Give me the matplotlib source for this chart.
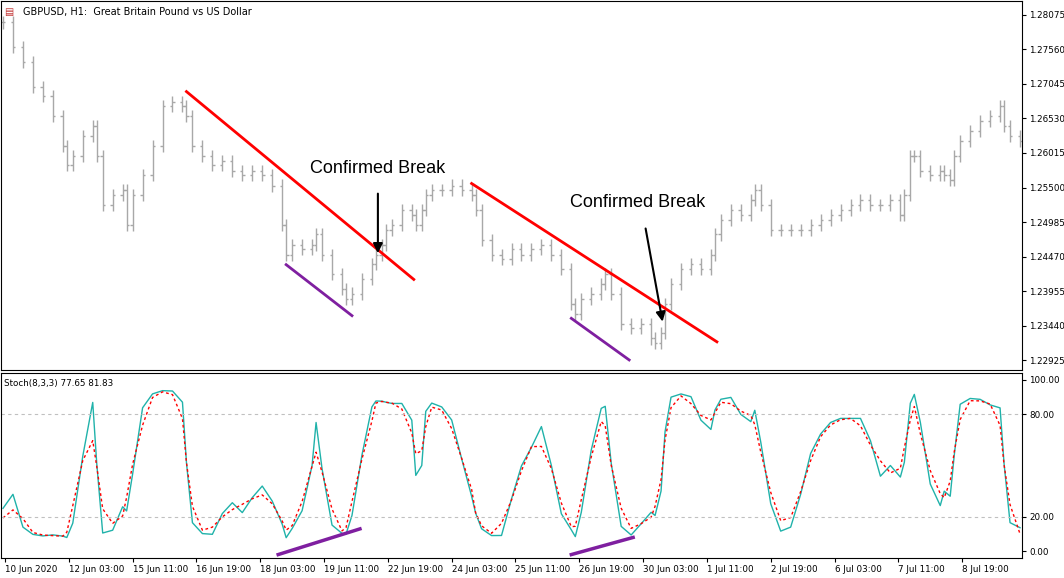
import numpy as np
import matplotlib
matplotlib.use("Agg")
import matplotlib.pyplot as plt

# bar index (hourly bars) of sampled closes
bars = [0,5,10,15,20,25,30,32,35,40,45,47,50,55,60,62,65,70,75,80,85,90,92,95,100,105,110,115,120,125,130,135,140,142,145,150,155,157,160,165,170,172,175,180,185,187,190,192,195,200,205,207,210,212,215,220,225,230,235,237,240,245,250,255,260,265,270,275,280,285,287,290,295,300,302,305,310,315,320,325,327,330,332,335,340,345,350,355,357,360,365,370,375,377,380,385,390,395,400,405,410,415,420,425,430,435,440,445,450,452,455,457,460,465,470,472,475,477,480,485,490,495,500,502,505,510]
closes = [1.2796,1.2759,1.2737,1.2700,1.2686,1.2656,1.2612,1.2583,1.2597,1.2627,1.2641,1.2597,1.2524,1.2539,1.2546,1.2494,1.2539,1.2568,1.2612,1.2671,1.2678,1.2671,1.2656,1.2612,1.2597,1.2583,1.2590,1.2575,1.2568,1.2575,1.2568,1.2553,1.2494,1.2450,1.2465,1.2458,1.2465,1.2480,1.2450,1.2421,1.2399,1.2384,1.2392,1.2414,1.2436,1.2450,1.2465,1.2487,1.2494,1.2516,1.2509,1.2494,1.2516,1.2539,1.2546,1.2546,1.2553,1.2546,1.2539,1.2516,1.2472,1.2450,1.2443,1.2458,1.2450,1.2458,1.2465,1.2450,1.2428,1.2377,1.2362,1.2384,1.2392,1.2406,1.2421,1.2392,1.2347,1.2340,1.2347,1.2325,1.2318,1.2333,1.2377,1.2406,1.2428,1.2436,1.2428,1.2450,1.2480,1.2502,1.2516,1.2509,1.2531,1.2546,1.2524,1.2487,1.2487,1.2487,1.2487,1.2494,1.2502,1.2509,1.2516,1.2524,1.2531,1.2524,1.2524,1.2531,1.2509,1.2539,1.2597,1.2597,1.2575,1.2568,1.2575,1.2568,1.2561,1.2597,1.2619,1.2634,1.2649,1.2656,1.2671,1.2641,1.2627,1.2619]
n = min(len(bars), len(closes))
bars = np.array(bars[:n], float); closes = np.array(closes[:n])

price_ticks = [1.22925,1.23440,1.23955,1.24470,1.24985,1.25500,1.26015,1.26530,1.27045,1.27560,1.28075]
date_labels = ["10 Jun 2020","12 Jun 03:00","15 Jun 11:00","16 Jun 19:00","18 Jun 03:00","19 Jun 11:00","22 Jun 19:00","24 Jun 03:00","25 Jun 11:00","26 Jun 19:00","30 Jun 03:00","1 Jul 11:00","2 Jul 19:00","6 Jul 03:00","7 Jul 11:00","8 Jul 19:00"]
date_bars = [1 + 32*i for i in range(len(date_labels))]

red1 = [(92, 1.2693), (206, 1.2413)]
red2 = [(235, 1.2556), (358, 1.2320)]
pur1 = [(142, 1.2435), (175, 1.2359)]
pur2 = [(285, 1.2355), (314, 1.2293)]
spur1 = [(138, -2), (179, 13)]
spur2 = [(285, -2), (316, 8)]

W, H = 1064, 578
fig = plt.figure(figsize=(W/100, H/100), dpi=100)
fig.patch.set_facecolor("white")
ax = fig.add_axes([1/W, 1-370/H, 1021/W, 369/H])
ax2 = fig.add_axes([1/W, 1-558/H, 1021/W, 185/H])
xmax = 511

opens = np.r_[closes[0], closes[:-1]]
hi = np.maximum(opens, closes) + 0.0009
lo = np.minimum(opens, closes) - 0.0009
c = "#a8a8a8"
ax.vlines(bars, lo, hi, color=c, lw=1)
ax.hlines(opens, bars-1.2, bars, color=c, lw=1)
ax.hlines(closes, bars, bars+1.2, color=c, lw=1)

for l, col in [(red1, "#ff0000"), (red2, "#ff0000"), (pur1, "#7f1fa0"), (pur2, "#7f1fa0")]:
    ax.plot([l[0][0], l[1][0]], [l[0][1], l[1][1]], color=col, lw=2)
ax.annotate("", xy=(188, 1.2448), xytext=(188, 1.2545),
            arrowprops=dict(arrowstyle="-|>", color="black", lw=1.5, mutation_scale=14))
ax.text(188, 1.2578, "Confirmed Break", ha="center", va="center", fontsize=13, family="Liberation Sans")
ax.annotate("", xy=(331, 1.2346), xytext=(322, 1.2493),
            arrowprops=dict(arrowstyle="-|>", color="black", lw=1.5, mutation_scale=14))
ax.text(318, 1.2527, "Confirmed Break", ha="center", va="center", fontsize=13, family="Liberation Sans")

ax.set_xlim(-1, xmax); ax.set_ylim(1.2278, 1.2828)
ax.yaxis.tick_right(); ax.set_yticks(price_ticks)
ax.set_yticklabels([f"{p:.5f}" for p in price_ticks], fontsize=6.3)
ax.tick_params(axis="y", pad=2, length=3)
ax.set_xticks([])
ax.text(0.022, 0.985, "GBPUSD, H1:  Great Britain Pound vs US Dollar", transform=ax.transAxes,
        fontsize=7, va="top")
ax.text(0.003, 0.985, "▤", transform=ax.transAxes, fontsize=7, va="top", color="#c03030")

# stochastic 8,3,3 (on sampled closes, shorter lookback)
k = 3
raw = np.array([(closes[i]-lo[max(0,i-k+1):i+1].min())/(hi[max(0,i-k+1):i+1].max()-lo[max(0,i-k+1):i+1].min())*100 for i in range(n)])
K = np.convolve(raw, np.ones(2)/2, mode="same")
D = np.convolve(K, np.ones(3)/3, mode="same")
ax2.plot(bars, K, color="#20b2aa", lw=1)
ax2.plot(bars, D, color="#ff0000", lw=1, ls=(0, (2, 2)))
for l in [spur1, spur2]:
    ax2.plot([l[0][0], l[1][0]], [l[0][1], l[1][1]], color="#7f1fa0", lw=2.5)
for lv in [20, 80]:
    ax2.axhline(lv, color="#c0c0c0", lw=0.8, ls=(0, (3, 3)))
ax2.set_xlim(-1, xmax); ax2.set_ylim(-4, 104)
ax2.yaxis.tick_right(); ax2.set_yticks([0, 20, 80, 100])
ax2.set_yticklabels(["0.00", "20.00", "80.00", "100.00"], fontsize=6.3)
ax2.tick_params(axis="y", pad=2, length=3)
ax2.set_xticks(date_bars)
ax2.set_xticklabels(date_labels, fontsize=6.3, ha="left")
ax2.tick_params(axis="x", length=3, pad=2)
ax2.text(0.003, 0.97, "Stoch(8,3,3) 77.65 81.83", transform=ax2.transAxes, fontsize=6.3, va="top")
for a in (ax, ax2):
    for s in a.spines.values():
        s.set_color("black"); s.set_linewidth(0.8)
fig.savefig("out.png", dpi=100)
